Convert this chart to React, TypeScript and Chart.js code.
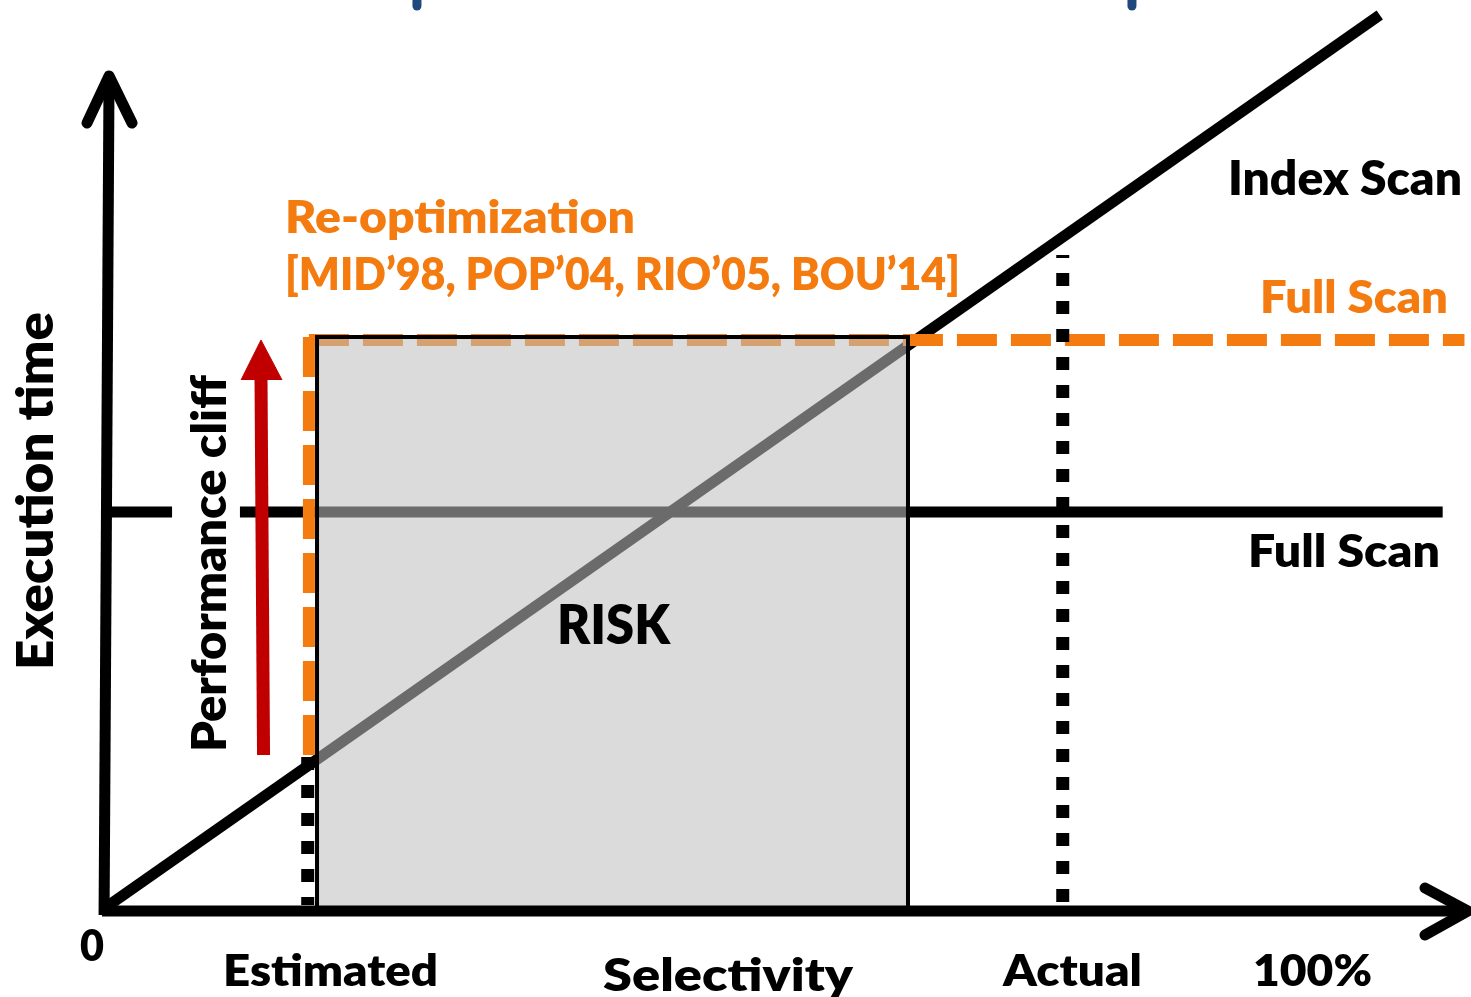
import React, { useEffect, useRef } from 'react';
import { Chart, registerables } from 'chart.js';

Chart.register(...registerables);

// ---- Data (x = selectivity in %, y = execution time, arbitrary units) ----
const INDEX_SCAN_SEL = [0, 105.6];
const INDEX_SCAN_TIME = [0, 89.5];
const FULL_SCAN_TIME = 39.8;
const FULL_SCAN_SEL_LEFT = [0.66, 5.79];
const FULL_SCAN_SEL_RIGHT = [11.4, 110.8];
const SEL_ESTIMATED = 17.0;
const SEL_ACTUAL = 79.4;
const ESTIMATED_DOT_TIME = [15.3, 0.5];
const ACTUAL_DOT_TIME = [65.5, 0.5];
const REOPT_SEL = 17.1;
const REOPT_VERTICAL_TIME = [15.5, 57.6];
const REOPT_FULL_SCAN_TIME = 57.0;
const REOPT_FULL_SCAN_SEL = [17.1, 112.6];
const RISK_SEL = [17.77, 66.61];
const RISK_TIME = [0.2, 57.3];
const X_AXIS_SEL = [0, 112.73];
const X_AXIS_TIME = -0.1;
const X_ARROW_SEL = [109.34, 112.89, 109.34];
const X_ARROW_TIME = [2.2, -0.1, -2.5];
const Y_AXIS_SEL = [0.17, 0.58];
const Y_AXIS_TIME = [-0.5, 83.0];
const Y_ARROW_SEL = [-1.24, 0.58, 2.48];
const Y_ARROW_TIME = [78.7, 83.4, 78.7];
const CLIFF_SHAFT_SEL = [13.35, 13.14];
const CLIFF_SHAFT_TIME = [15.5, 53.2];
const CLIFF_HEAD_SEL = [11.49, 13.14, 14.88];
const CLIFF_HEAD_TIME = [53.0, 57.0, 53.0];
const BLUE_MARK_SEL = [26.03, 85.12];
const BLUE_MARK_TIME = [90.4, 92.0];

// axis ranges
const X_MIN = -8.43, X_MAX = 113.14, Y_MIN = -8.7, Y_MAX = 91.0;

const BLACK = '#000000';
const ORANGE = '#f47b0f';
const RED = '#c00000';
const BLUE = '#1f497d';

type Label = { text: string; color: string; start: number; end: number; base: number; cap: number; rotate?: boolean };
const LABELS: Label[] = [
  { text: 'Index Scan', color: BLACK, start: 1228, end: 1462, base: 195, cap: 34 },
  { text: 'Full Scan', color: ORANGE, start: 1260, end: 1448, base: 313, cap: 33 },
  { text: 'Full Scan', color: BLACK, start: 1248, end: 1440, base: 567, cap: 33 },
  { text: 'Re-optimization', color: ORANGE, start: 285, end: 635, base: 233, cap: 32.5 },
  { text: '[MID\u201998, POP\u201904, RIO\u201905, BOU\u201914]', color: ORANGE, start: 285, end: 960, base: 290, cap: 32.5 },
  { text: 'RISK', color: BLACK, start: 557, end: 670, base: 644, cap: 39 },
  { text: '0', color: BLACK, start: 80, end: 104, base: 961, cap: 31 },
  { text: 'Estimated', color: BLACK, start: 223, end: 438, base: 986, cap: 31 },
  { text: 'Selectivity', color: BLACK, start: 603, end: 853, base: 991, cap: 32 },
  { text: 'Actual', color: BLACK, start: 1003, end: 1142, base: 986, cap: 31 },
  { text: '100%', color: BLACK, start: 1253, end: 1372, base: 986, cap: 31 },
  { text: 'Execution time', color: BLACK, start: 312, end: 670, base: 53, cap: 36, rotate: true },
  { text: 'Performance cliff', color: BLACK, start: 375, end: 752, base: 226, cap: 34, rotate: true },
];

const pts = (xs: number[], ys: number[]) => xs.map((x, i) => ({ x, y: ys[i] }));

function drawLabel(ctx: CanvasRenderingContext2D, l: Label) {
  const size = l.cap / 0.7165;
  ctx.save();
  ctx.font = `800 ${size}px Lato, "Open Sans", sans-serif`;
  ctx.fillStyle = l.color;
  ctx.textBaseline = 'alphabetic';
  ctx.textAlign = 'center';
  const w = ctx.measureText(l.text).width;
  const sx = Math.abs(l.end - l.start) / w;
  const mid = (l.start + l.end) / 2;
  if (l.rotate) {
    ctx.translate(l.base, mid);
    ctx.rotate(-Math.PI / 2);
  } else {
    ctx.translate(mid, l.base);
  }
  ctx.scale(sx, 1);
  ctx.fillText(l.text, 0, 0);
  ctx.restore();
}

const labelPlugin = {
  id: 'labels',
  afterDatasetsDraw(chart: any) {
    const ctx = chart.ctx as CanvasRenderingContext2D;
    LABELS.forEach((l) => drawLabel(ctx, l));
  },
};

export default function App() {
  const ref = useRef<HTMLCanvasElement | null>(null);
  useEffect(() => {
    if (!ref.current) return;
    const line = (data: any[], color: string, width: number, extra: any = {}) => ({
      data,
      borderColor: color,
      backgroundColor: color,
      borderWidth: width,
      pointRadius: 0,
      fill: false,
      clip: false,
      borderCapStyle: 'butt',
      borderJoinStyle: 'miter',
      ...extra,
    });
    const layers: any[] = [
      line(pts(INDEX_SCAN_SEL, INDEX_SCAN_TIME), BLACK, 11),
      line(pts(FULL_SCAN_SEL_LEFT, [FULL_SCAN_TIME, FULL_SCAN_TIME]), BLACK, 11),
      line(pts(FULL_SCAN_SEL_RIGHT, [FULL_SCAN_TIME, FULL_SCAN_TIME]), BLACK, 11),
      line(pts([SEL_ESTIMATED, SEL_ESTIMATED], ESTIMATED_DOT_TIME), BLACK, 13, { borderDash: [13, 15] }),
      line(pts([REOPT_SEL, REOPT_SEL], REOPT_VERTICAL_TIME), ORANGE, 12, { borderDash: [40, 14] }),
      line(pts(REOPT_FULL_SCAN_SEL, [REOPT_FULL_SCAN_TIME, REOPT_FULL_SCAN_TIME]), ORANGE, 12, { borderDash: [40, 14] }),
      line(pts([SEL_ACTUAL, SEL_ACTUAL], ACTUAL_DOT_TIME), BLACK, 13, { borderDash: [13, 15], borderDashOffset: 10 }),
      line(pts(RISK_SEL, [RISK_TIME[1], RISK_TIME[1]]), 'rgba(0,0,0,0)', 0, {
        fill: { value: RISK_TIME[0] },
        backgroundColor: 'rgba(190,190,190,0.56)',
      }),
      line(
        pts(
          [RISK_SEL[0], RISK_SEL[1], RISK_SEL[1], RISK_SEL[0], RISK_SEL[0]],
          [RISK_TIME[0], RISK_TIME[0], RISK_TIME[1], RISK_TIME[1], RISK_TIME[0]]
        ),
        BLACK,
        4
      ),
      line(pts(X_AXIS_SEL, [X_AXIS_TIME, X_AXIS_TIME]), BLACK, 11),
      line(pts(X_ARROW_SEL, X_ARROW_TIME), BLACK, 11, { borderCapStyle: 'round', borderJoinStyle: 'round' }),
      line(pts(Y_AXIS_SEL, Y_AXIS_TIME), BLACK, 11),
      line(pts(Y_ARROW_SEL, Y_ARROW_TIME), BLACK, 11, { borderCapStyle: 'round', borderJoinStyle: 'round' }),
      line(pts(CLIFF_SHAFT_SEL, CLIFF_SHAFT_TIME), RED, 13),
      line(pts(CLIFF_HEAD_SEL, CLIFF_HEAD_TIME), RED, 1, { fill: { value: CLIFF_HEAD_TIME[0] } }),
      line(pts([BLUE_MARK_SEL[0], BLUE_MARK_SEL[0]], BLUE_MARK_TIME), BLUE, 9, { borderCapStyle: 'round' }),
      line(pts([BLUE_MARK_SEL[1], BLUE_MARK_SEL[1]], BLUE_MARK_TIME), BLUE, 9, { borderCapStyle: 'round' }),
    ];
    const datasets = layers.map((d, i) => ({ ...d, order: layers.length - i }));
    const chart = new Chart(ref.current, {
      type: 'line',
      data: { datasets },
      options: {
        responsive: false,
        animation: false,
        devicePixelRatio: 1,
        events: [],
        layout: { padding: 0, autoPadding: false },
        plugins: { legend: { display: false }, tooltip: { enabled: false }, title: { display: false } },
        scales: {
          x: { type: 'linear', min: X_MIN, max: X_MAX, display: false },
          y: { type: 'linear', min: Y_MIN, max: Y_MAX, display: false },
        },
      } as any,
      plugins: [labelPlugin],
    });
    if ((document as any).fonts && (document as any).fonts.load) {
      (document as any).fonts.load('800 40px Lato').then(() => chart.update()).catch(() => {});
    }
    return () => chart.destroy();
  }, []);
  return (
    <div style={{ position: 'fixed', left: 0, top: 0, width: 1471, height: 997, background: '#ffffff' }}>
      <canvas ref={ref} width={1471} height={997} style={{ width: 1471, height: 997, display: 'block' }} />
    </div>
  );
}
